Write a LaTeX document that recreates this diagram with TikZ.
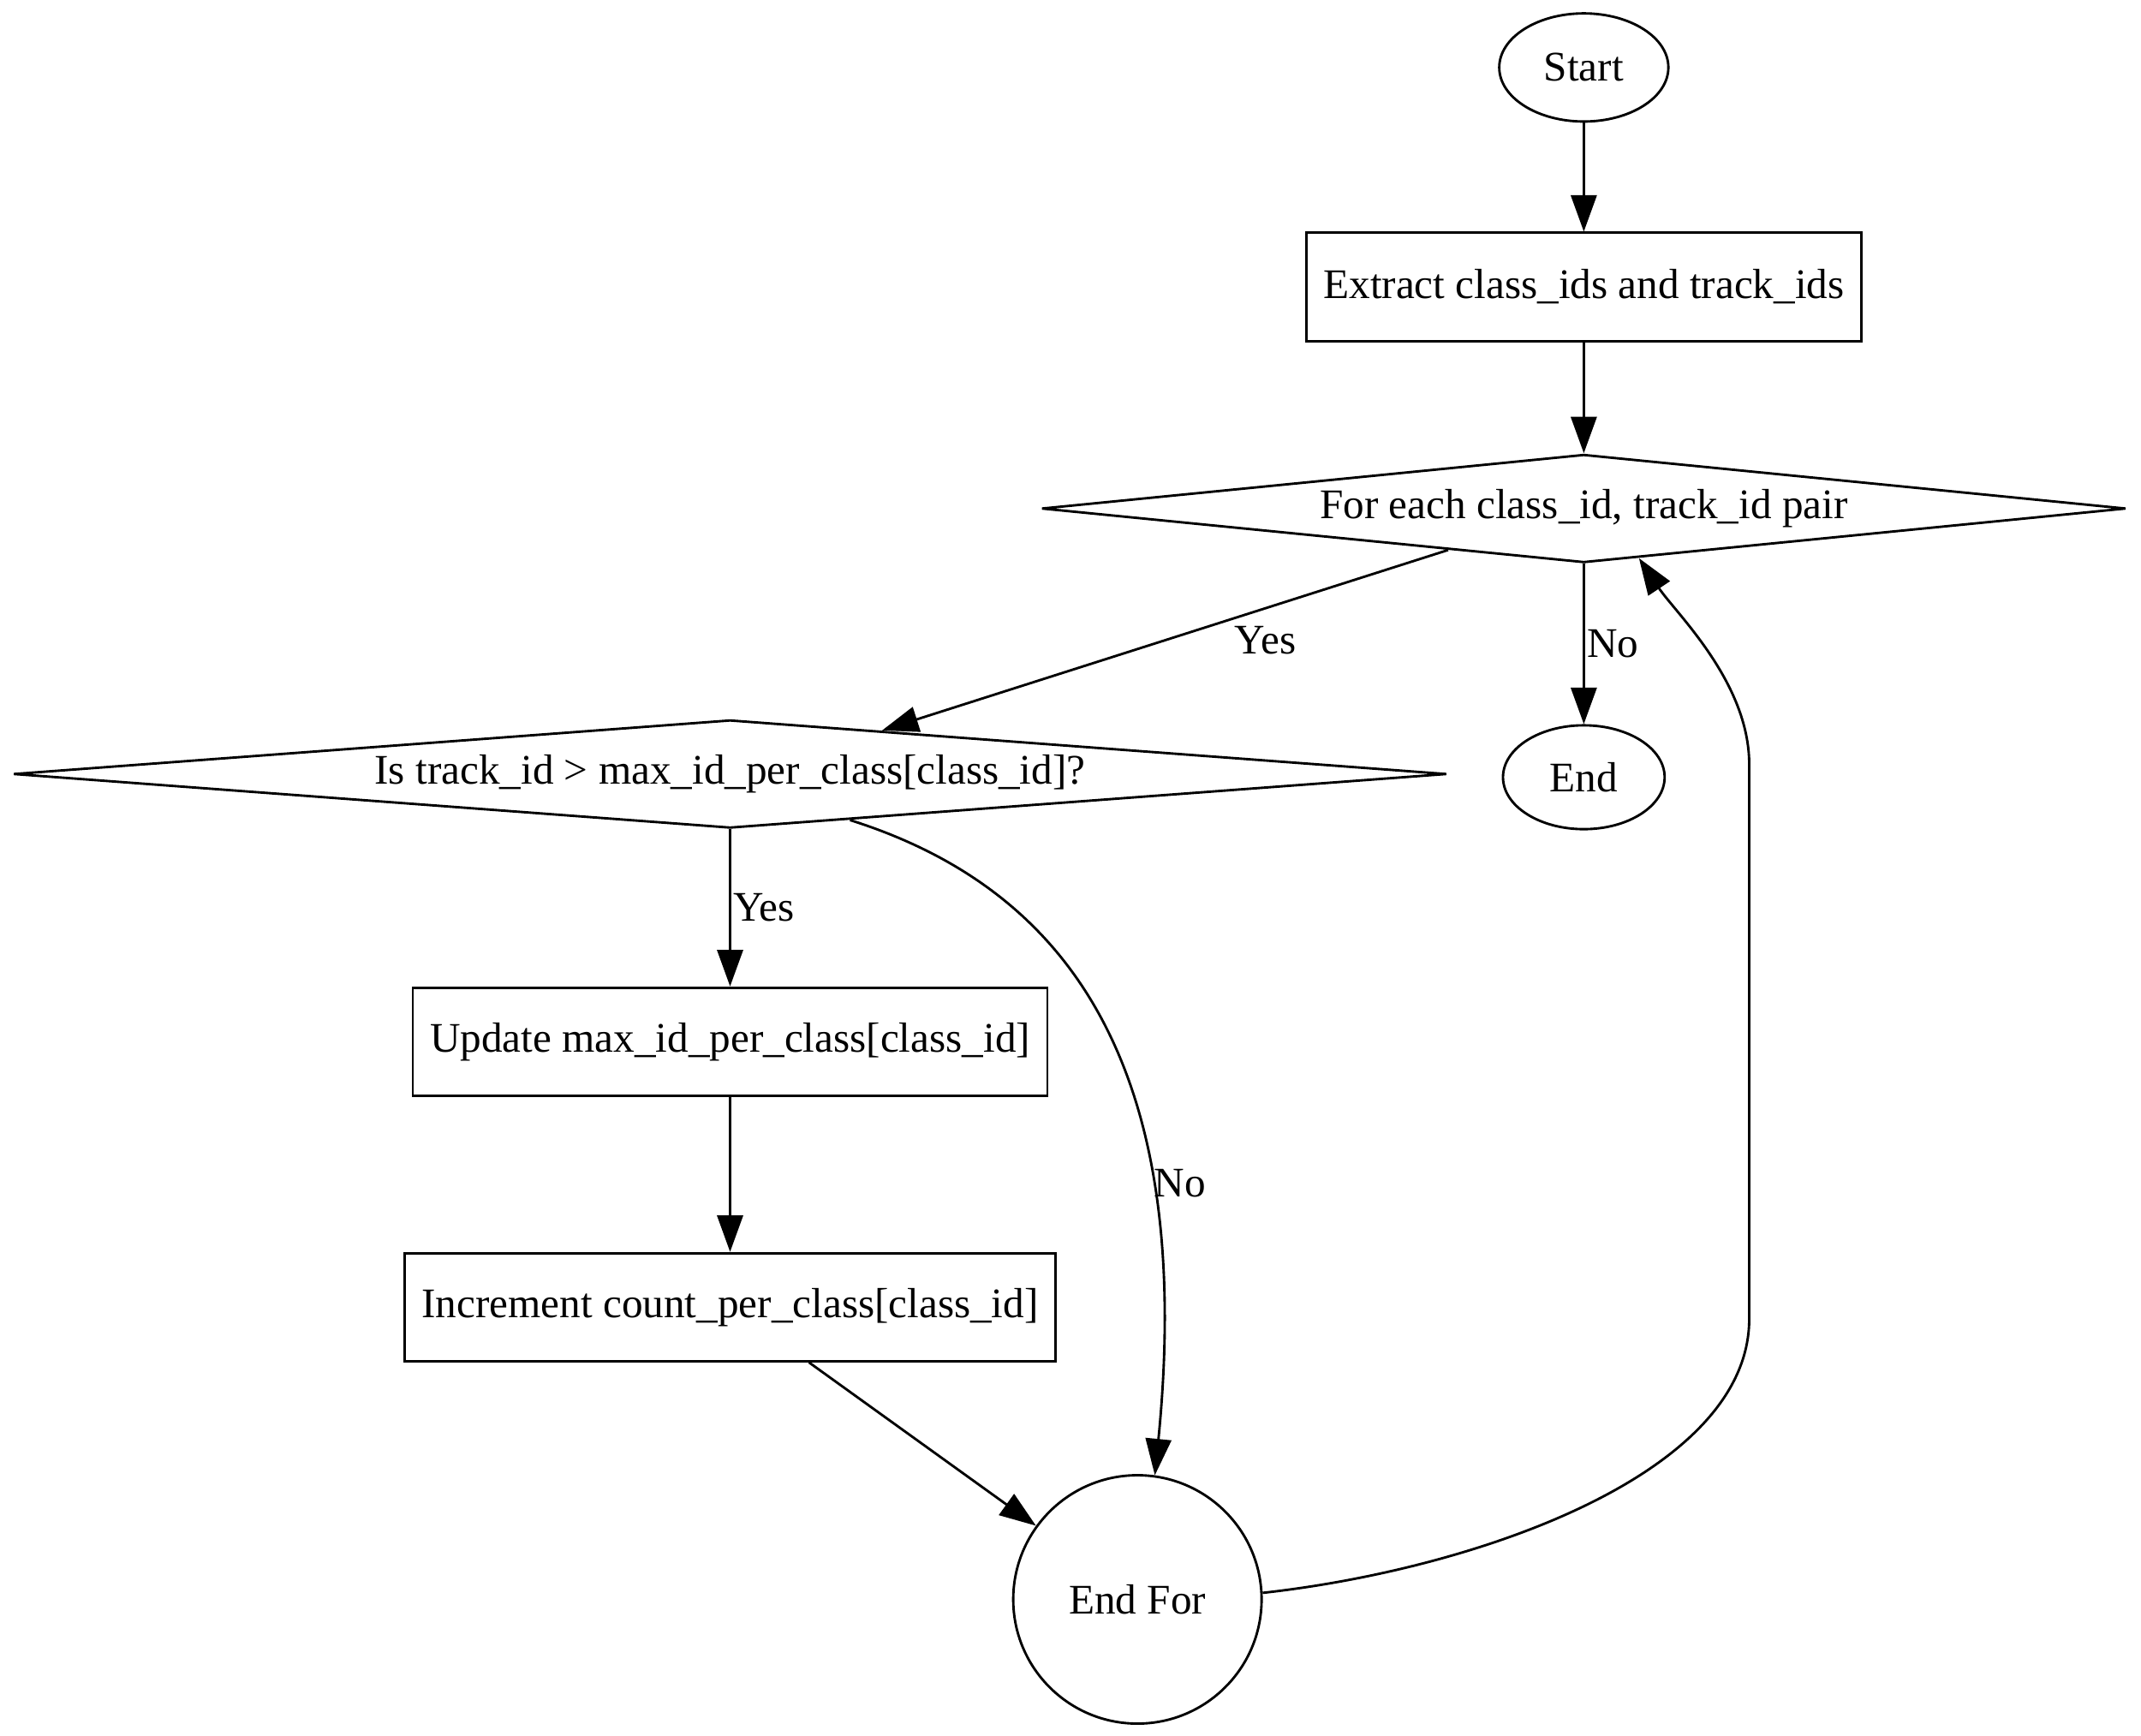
\documentclass[tikz,border=0pt]{standalone}
\usepackage{fontspec}
\setmainfont{Liberation Serif}
\usetikzlibrary{arrows.meta, shapes.geometric}

\begin{document}
\begin{tikzpicture}[font=\fontsize{11.2}{13.4}\selectfont, line width=0.65pt,
    flow/.style={-{Triangle[length=3.4mm, width=2.4mm]}},
    procbox/.style={draw, rectangle, inner xsep=0.16cm, minimum height=1.01cm},
    term/.style={draw, ellipse, inner sep=0pt, minimum height=1.01cm},
    decide/.style={draw, diamond, inner sep=0pt, shape aspect=13, minimum height=1.01cm},
    lbl/.style={inner sep=0.5pt}]
          \useasboundingbox (0,0) rectangle (20,-16.215);
          \node[term, minimum width=1.58cm] (start) at (14.795,-0.63) {Start};
          \node[procbox] (extract) at (14.795,-2.68) {Extract class\_ids and track\_ids};
          \node[decide, minimum width=10.13cm] (pairs) at (14.795,-4.75) {For each class\_id, track\_id pair};
          \node[decide, minimum width=13.39cm] (check) at (6.82,-7.23) {Is track\_id > max\_id\_per\_class[class\_id]?};
          \node[term, minimum width=1.51cm, minimum height=0.97cm] (stop) at (14.795,-7.26) {End};
          \node[procbox] (update) at (6.82,-9.73) {Update max\_id\_per\_class[class\_id]};
          \node[procbox] (count) at (6.82,-12.21) {Increment count\_per\_class[class\_id]};
          \node[draw, circle, minimum size=2.32cm, inner sep=0pt] (endfor) at (10.625,-14.94) {End For};
          \coordinate (backlow) at (16.34,-12.32);
          \coordinate (backhigh) at (16.34,-7.14);
          \draw[flow] (start.south) -- (extract.north);
          \draw[flow] (extract.south) -- (pairs.north);
          \draw[flow] (pairs.197.6) -- (check.16) node[lbl, midway, anchor=west, xshift=0.62cm] (yespair) {Yes};
          \draw[flow] (pairs.south) -- (stop.north) node[lbl, midway, anchor=west] (nopair) {No};
          \draw[flow] (check.south) -- (update.north) node[lbl, midway, anchor=west] (yescheck) {Yes};
          \draw[flow] (check.-21) .. controls +(2.03,-0.64) and +(0.38,3.83) .. (endfor.82) node[lbl, pos=0.72, anchor=west] (nocheck) {No};
          \draw[flow] (update.south) -- (count.north);
          \draw[flow] (count.-35.5) -- (endfor.144);
          \draw[flow] (endfor.3.5) .. controls +(1.99,0.22) and +(0,-1.45) .. (backlow) -- (backhigh) .. controls +(0,0.77) and +(0.34,-0.51) .. (pairs.-42);
        \end{tikzpicture}
\end{document}
